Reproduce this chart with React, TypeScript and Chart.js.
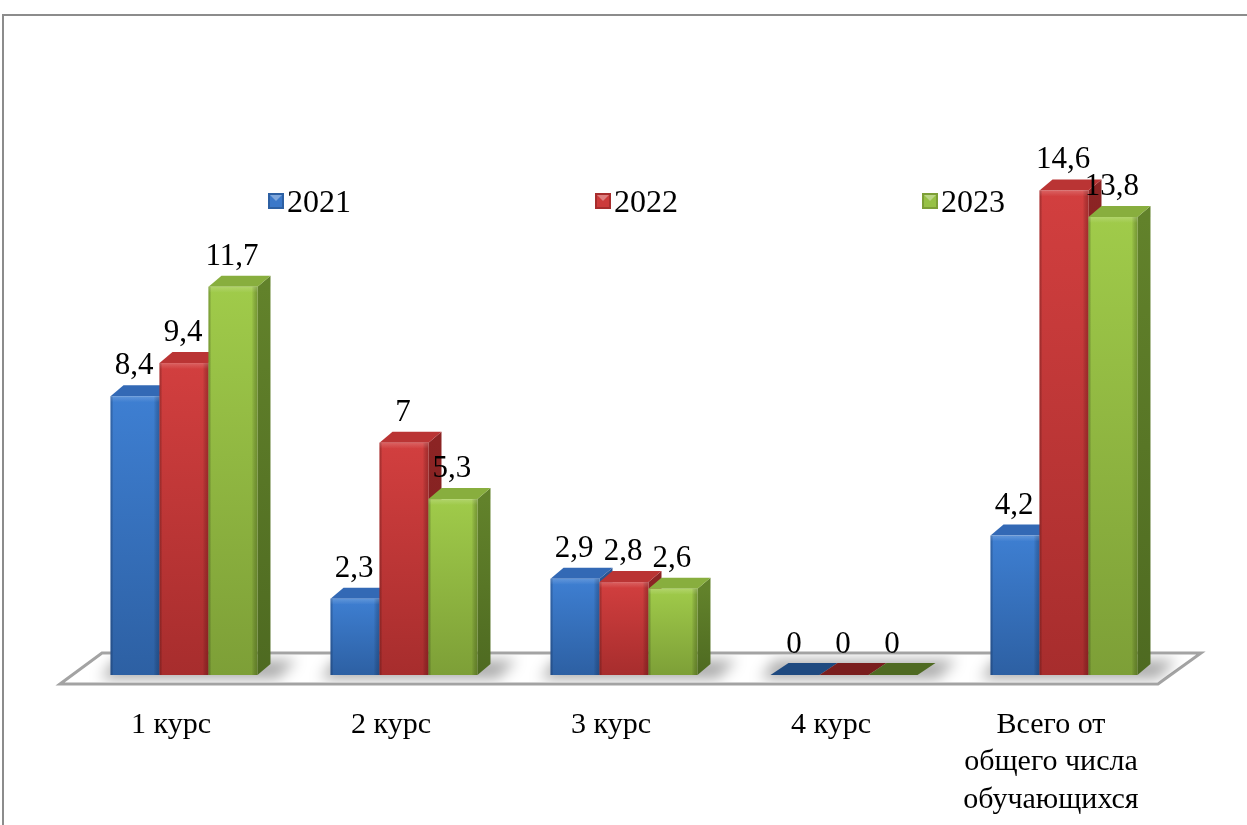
import React, { useEffect, useRef } from 'react';
import { Chart, registerables } from 'chart.js';

Chart.register(...registerables);

// ---- data ----
const categories: (string | string[])[] = [
  '1 курс',
  '2 курс',
  '3 курс',
  '4 курс',
  ['Всего от', 'общего числа', 'обучающихся'],
];
const seriesNames = ['2021', '2022', '2023'];
const values2021 = [8.4, 2.3, 2.9, 0, 4.2];
const values2022 = [9.4, 7, 2.8, 0, 14.6];
const values2023 = [11.7, 5.3, 2.6, 0, 13.8];
const yMax = 16;

// ---- styles ----
const FONT = "'Liberation Serif', 'Times New Roman', serif";
const palettes = [
  { light: '#3e7fd2', dark: '#2d60a3', edge: 'rgba(20,40,80,0.35)', side: '#2a5592', sideDark: '#22467a', top: '#3369b5', flat: '#1f4a80', legend: '#3b78c9' },
  { light: '#d23f3f', dark: '#a72d2d', edge: 'rgba(80,10,10,0.35)', side: '#8c2424', sideDark: '#721c1c', top: '#ba3434', flat: '#7a1e1e', legend: '#cc3b3b' },
  { light: '#a0cb4a', dark: '#7d9f37', edge: 'rgba(40,60,10,0.35)', side: '#62822b', sideDark: '#4e6a21', top: '#88ae3e', flat: '#4f6a22', legend: '#97c146' },
];
const DX = 13;
const DY = 11;

const fmt = (v: number) => String(v).replace('.', ',');

const bar3d = {
  id: 'bar3d',
  beforeDraw(chart: any) {
    const ctx = chart.ctx;
    const { left, right, bottom } = chart.chartArea;
    ctx.save();
    ctx.fillStyle = '#ffffff';
    ctx.fillRect(0, 0, chart.width, chart.height);
    // outer frame
    ctx.strokeStyle = '#8c8c8c';
    ctx.lineWidth = 2;
    ctx.beginPath();
    ctx.moveTo(3, chart.height + 5);
    ctx.lineTo(3, 15);
    ctx.lineTo(chart.width + 5, 15);
    ctx.stroke();
    // floor
    const fb = bottom + 9;
    const bb = bottom - 22;
    ctx.beginPath();
    ctx.moveTo(left - 14, fb);
    ctx.lineTo(left + 28, bb);
    ctx.lineTo(right + 27, bb);
    ctx.lineTo(right - 16, fb);
    ctx.closePath();
    ctx.fillStyle = '#ffffff';
    ctx.fill();
    ctx.strokeStyle = '#a3a3a3';
    ctx.lineWidth = 3;
    ctx.stroke();
    ctx.restore();
  },
  beforeDatasetsDraw(chart: any) {
    const ctx = chart.ctx;
    const { left, right, bottom } = chart.chartArea;
    const nCat = chart.data.labels.length;
    const nDs = chart.data.datasets.length;
    const fb = bottom + 9;
    const bb = bottom - 22;

    // shadows on floor
    ctx.save();
    ctx.beginPath();
    ctx.moveTo(left - 14, fb - 2);
    ctx.lineTo(left + 28, bb + 2);
    ctx.lineTo(right + 27, bb + 2);
    ctx.lineTo(right - 16, fb - 2);
    ctx.closePath();
    ctx.clip();
    ctx.filter = 'blur(7px)';
    ctx.fillStyle = 'rgba(0,0,0,0.33)';
    for (let i = 0; i < nCat; i++) {
      const first = chart.getDatasetMeta(0).data[i].getProps(['x', 'width'], true);
      const last = chart.getDatasetMeta(nDs - 1).data[i].getProps(['x', 'width'], true);
      const x0 = first.x - first.width / 2;
      const x1 = last.x + last.width / 2;
      ctx.beginPath();
      ctx.moveTo(x0 - 10, bottom + 4);
      ctx.lineTo(x1 + 20, bottom + 4);
      ctx.lineTo(x1 + DX + 26, bottom - DY - 4);
      ctx.lineTo(x0 + 4, bottom - DY - 4);
      ctx.closePath();
      ctx.fill();
    }
    ctx.restore();

    // bars
    const labels: { x: number; y: number; t: string }[] = [];
    for (let i = 0; i < nCat; i++) {
      for (let d = 0; d < nDs; d++) {
        const el = chart.getDatasetMeta(d).data[i];
        const { x, y, base, width } = el.getProps(['x', 'y', 'base', 'width'], true);
        const p = palettes[d];
        const x0 = x - width / 2;
        const x1 = x + width / 2;
        const h = base - y;
        ctx.save();
        if (h < 1) {
          ctx.beginPath();
          ctx.moveTo(x0, base);
          ctx.lineTo(x1, base);
          ctx.lineTo(x1 + DX + 5, base - DY - 1);
          ctx.lineTo(x0 + DX + 5, base - DY - 1);
          ctx.closePath();
          ctx.fillStyle = p.flat;
          ctx.fill();
        } else {
          // side
          const sg = ctx.createLinearGradient(0, y, 0, base);
          sg.addColorStop(0, p.side);
          sg.addColorStop(1, p.sideDark);
          ctx.beginPath();
          ctx.moveTo(x1, y);
          ctx.lineTo(x1 + DX, y - DY);
          ctx.lineTo(x1 + DX, base - DY);
          ctx.lineTo(x1, base);
          ctx.closePath();
          ctx.fillStyle = sg;
          ctx.fill();
          // top
          ctx.beginPath();
          ctx.moveTo(x0, y);
          ctx.lineTo(x1, y);
          ctx.lineTo(x1 + DX, y - DY);
          ctx.lineTo(x0 + DX, y - DY);
          ctx.closePath();
          ctx.fillStyle = p.top;
          ctx.fill();
          // front: vertical light->dark
          const g = ctx.createLinearGradient(0, y, 0, base);
          g.addColorStop(0, p.light);
          g.addColorStop(1, p.dark);
          ctx.fillStyle = g;
          ctx.fillRect(x0, y, width, h);
          // edge shading
          const eg = ctx.createLinearGradient(x0, 0, x1, 0);
          eg.addColorStop(0, p.edge);
          eg.addColorStop(0.06, 'rgba(0,0,0,0)');
          eg.addColorStop(0.88, 'rgba(0,0,0,0)');
          eg.addColorStop(1, p.edge);
          ctx.fillStyle = eg;
          ctx.fillRect(x0, y, width, h);
          // subtle highlight at top edge
          const hg = ctx.createLinearGradient(0, y, 0, y + 6);
          hg.addColorStop(0, 'rgba(255,255,255,0.18)');
          hg.addColorStop(1, 'rgba(255,255,255,0)');
          ctx.fillStyle = hg;
          ctx.fillRect(x0, y, width, Math.min(6, h));
        }
        ctx.restore();
        labels.push({ x, y: y - 22, t: fmt(chart.data.datasets[d].data[i]) });
      }
    }

    // value labels
    ctx.save();
    ctx.fillStyle = '#000';
    ctx.font = `31px ${FONT}`;
    ctx.textAlign = 'center';
    ctx.textBaseline = 'alphabetic';
    for (const l of labels) ctx.fillText(l.t, l.x - 1, l.y);
    ctx.restore();
    return false;
  },
  afterDraw(chart: any) {
    const ctx = chart.ctx;
    ctx.save();
    ctx.font = `32px ${FONT}`;
    ctx.textBaseline = 'alphabetic';
    ctx.textAlign = 'left';
    const startX = 268;
    const step = 327;
    const cy = 201;
    chart.data.datasets.forEach((ds: any, d: number) => {
      const p = palettes[d];
      const mx = startX + d * step;
      const s = 16;
      const my = cy - s / 2;
      ctx.fillStyle = p.dark;
      ctx.fillRect(mx, my, s, s);
      ctx.fillStyle = p.legend;
      ctx.fillRect(mx + 2, my + 2, s - 4, s - 4);
      ctx.beginPath();
      ctx.moveTo(mx + 2, my + 2);
      ctx.lineTo(mx + s - 2, my + 2);
      ctx.lineTo(mx + s / 2, my + s / 2);
      ctx.closePath();
      ctx.fillStyle = 'rgba(255,255,255,0.35)';
      ctx.fill();
      ctx.fillStyle = '#000';
      ctx.fillText(ds.label, mx + s + 3, cy + 11);
    });
    ctx.restore();
  },
};

export default function App() {
  const ref = useRef<HTMLCanvasElement | null>(null);
  useEffect(() => {
    document.body.style.margin = '0';
    const canvas = ref.current!;
    const chart = new Chart(canvas, {
      type: 'bar',
      data: {
        labels: categories as any,
        datasets: [values2021, values2022, values2023].map((vals, d) => ({
          label: seriesNames[d],
          data: vals,
          backgroundColor: palettes[d].legend,
          categoryPercentage: 0.668,
          barPercentage: 1.0,
        })),
      },
      options: {
        responsive: false,
        animation: false,
        layout: { padding: { top: 144, left: 74, right: 73, bottom: 0 } },
        plugins: {
          legend: { display: false },
          tooltip: { enabled: false },
        },
        scales: {
          x: {
            grid: { display: false },
            border: { display: false },
            ticks: {
              color: '#000',
              font: { family: FONT, size: 30, lineHeight: 1.25 },
              padding: 23,
              labelOffset: -13,
              maxRotation: 0,
              autoSkip: false,
            },
            afterFit: (s: any) => {
              s.height = 150;
            },
          },
          y: {
            display: false,
            min: 0,
            max: yMax,
          },
        },
      },
      plugins: [bar3d],
    });
    return () => chart.destroy();
  }, []);
  return (
    <div style={{ position: 'fixed', left: 0, top: 0, width: 1247, height: 825 }}>
      <canvas ref={ref} width={1247} height={825} style={{ display: 'block' }} />
    </div>
  );
}
